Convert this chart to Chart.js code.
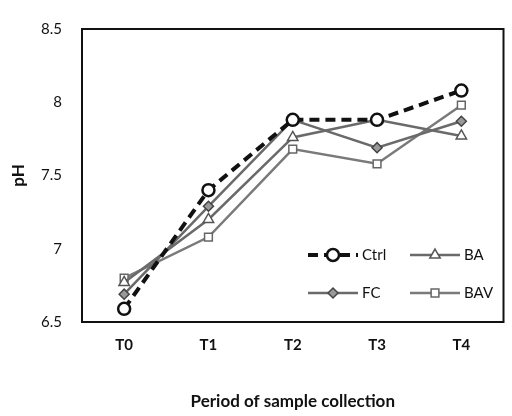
<!DOCTYPE html>
<html>
<head>
<meta charset="utf-8">
<script src="https://cdn.jsdelivr.net/npm/chart.js@4/dist/chart.umd.min.js"></script>
<style>
  html, body { margin: 0; padding: 0; background: #fff; }
  #wrap { width: 512px; height: 416px; }
</style>
</head>
<body>
<div id="wrap"><canvas id="phChart" width="512" height="416"></canvas></div>
<script>
const periods = ['T0', 'T1', 'T2', 'T3', 'T4'];
const ctrlPh = [6.59, 7.4, 7.88, 7.88, 8.08];
const fcPh = [6.69, 7.29, 7.88, 7.69, 7.87];
const baPh = [6.77, 7.2, 7.76, 7.88, 7.77];
const bavPh = [6.8, 7.08, 7.68, 7.58, 7.98];
const yMin = 6.5;
const yMax = 8.5;
const yStep = 0.5;

const FONT = 'Lato, "Open Sans", sans-serif';

// frame around the plot area
const framePlugin = {
  id: 'frame',
  beforeDatasetsDraw(chart) {
    const {ctx, chartArea: a} = chart;
    ctx.save();
    ctx.strokeStyle = '#111';
    ctx.lineWidth = 2;
    ctx.strokeRect(a.left, a.top, a.right - a.left, a.bottom - a.top);
    ctx.restore();
  }
};

// 2x2 legend inside the plot, bottom right
const insideLegend = {
  id: 'insideLegend',
  afterDraw(chart) {
    const ctx = chart.ctx;
    const slots = [[308, 255], [308, 293], [410, 255], [410, 293]];
    // order in picture: Ctrl, FC (left col), BA, BAV (right col)
    chart.data.datasets.forEach((ds, i) => {
      const [x, y] = slots[i];
      ctx.save();
      ctx.strokeStyle = ds.borderColor;
      ctx.lineWidth = ds.borderWidth;
      ctx.setLineDash(ds.borderDash || []);
      ctx.beginPath();
      ctx.moveTo(x, y);
      ctx.lineTo(x + 50, y);
      ctx.stroke();
      ctx.setLineDash([]);
      ctx.fillStyle = ds.pointBackgroundColor;
      ctx.strokeStyle = ds.pointBorderColor;
      ctx.lineWidth = ds.pointBorderWidth;
      Chart.helpers.drawPoint(ctx, {
        pointStyle: ds.pointStyle,
        radius: ds.pointRadius,
        rotation: 0,
        borderWidth: ds.pointBorderWidth
      }, x + 25, y);
      ctx.fillStyle = '#111';
      ctx.font = '15px ' + FONT;
      ctx.textBaseline = 'middle';
      ctx.fillText(ds.label, x + 54, y);
      ctx.restore();
    });
  }
};

new Chart(document.getElementById('phChart').getContext('2d'), {
  type: 'line',
  data: {
    labels: periods,
    datasets: [
      {
        label: 'Ctrl',
        data: ctrlPh,
        borderColor: '#111',
        borderWidth: 4,
        borderDash: [10, 6],
        pointStyle: 'circle',
        pointRadius: 6,
        pointBorderWidth: 2.5,
        pointBackgroundColor: '#fff',
        pointBorderColor: '#111',
        tension: 0,
        fill: false
      },
      {
        label: 'FC',
        data: fcPh,
        borderColor: '#6a6a6a',
        borderWidth: 2.5,
        pointStyle: 'rectRot',
        pointRadius: 5,
        pointBorderWidth: 1.5,
        pointBackgroundColor: '#999',
        pointBorderColor: '#444',
        tension: 0,
        fill: false
      },
      {
        label: 'BA',
        data: baPh,
        borderColor: '#6a6a6a',
        borderWidth: 2.5,
        pointStyle: 'triangle',
        pointRadius: 6,
        pointBorderWidth: 1.5,
        pointBackgroundColor: '#fff',
        pointBorderColor: '#555',
        tension: 0,
        fill: false
      },
      {
        label: 'BAV',
        data: bavPh,
        borderColor: '#7a7a7a',
        borderWidth: 2.5,
        pointStyle: 'rect',
        pointRadius: 5.5,
        pointBorderWidth: 1.5,
        pointBackgroundColor: '#fff',
        pointBorderColor: '#666',
        tension: 0,
        fill: false
      }
    ]
  },
  options: {
    responsive: false,
    animation: false,
    layout: { padding: { top: 22, right: 1, left: 0, bottom: 0 } },
    plugins: {
      legend: { display: false },
      tooltip: { enabled: false }
    },
    scales: {
      x: {
        offset: true,
        grid: { display: false, drawTicks: false },
        border: { display: false },
        ticks: { color: '#111', font: { family: FONT, size: 15, weight: 'bold' }, padding: 14 },
        title: {
          display: true,
          text: 'Period of sample collection',
          color: '#111',
          font: { family: FONT, size: 17, weight: 'bold' },
          padding: { top: 4, bottom: 4 }
        },
        afterFit(scale) { scale.height = 94; }
      },
      y: {
        min: yMin,
        max: yMax,
        grid: { display: false, drawTicks: false },
        border: { display: false },
        ticks: {
          stepSize: yStep,
          color: '#111',
          font: { family: FONT, size: 15 },
          padding: 20,
          callback: v => String(v)
        },
        title: {
          display: true,
          text: 'pH',
          color: '#111',
          font: { family: FONT, size: 17, weight: 'bold' },
          padding: { top: 8, bottom: 4 }
        },
        afterFit(scale) { scale.width = 82; }
      }
    }
  },
  plugins: [framePlugin, insideLegend]
});
</script>
</body>
</html>
